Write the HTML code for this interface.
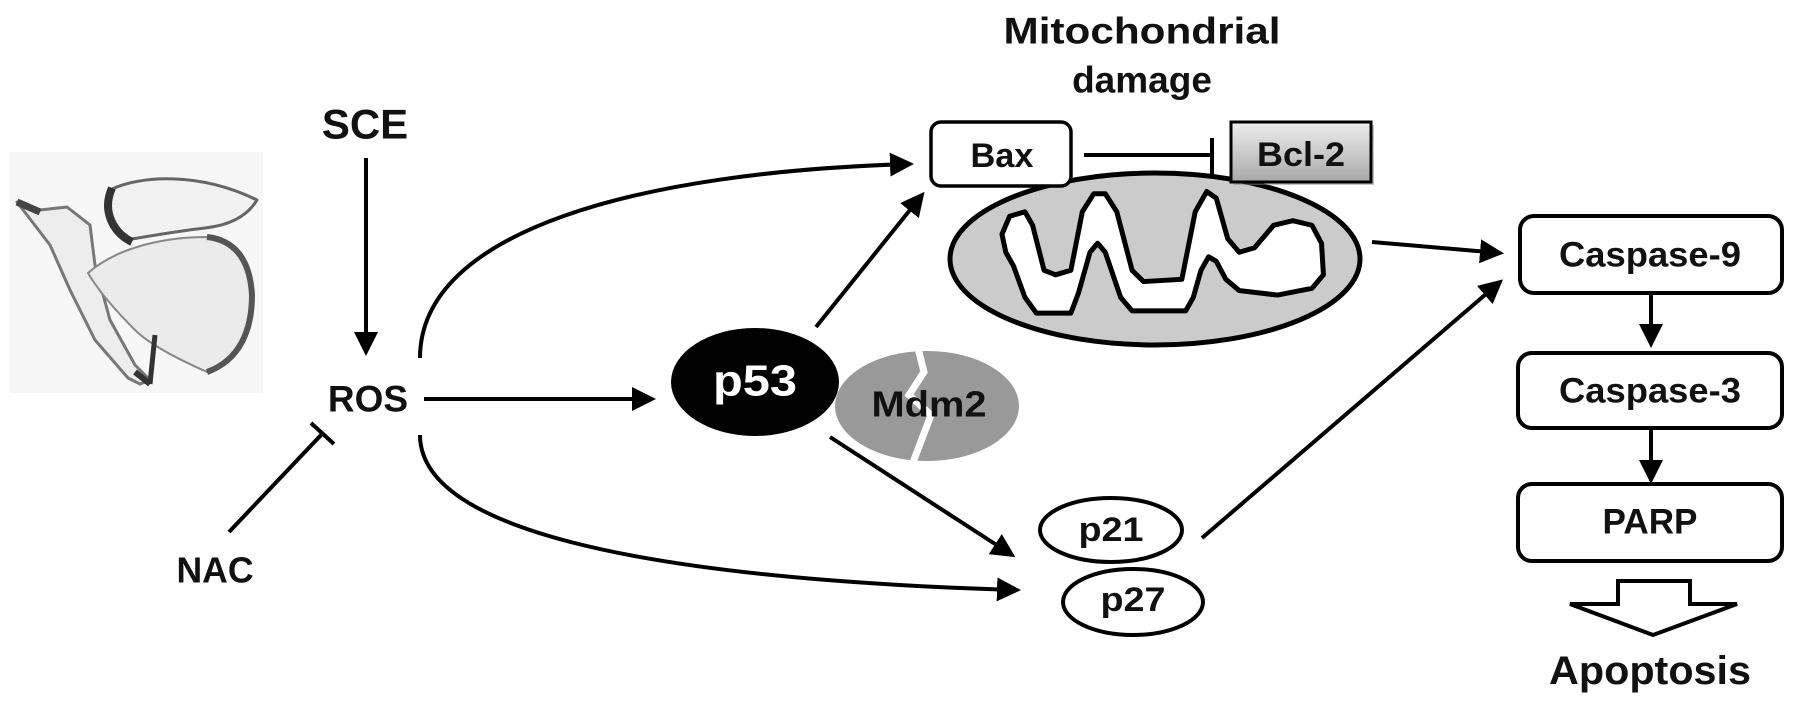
<!DOCTYPE html>
<html><head><meta charset="utf-8"><style>
html,body{margin:0;padding:0;background:#fff;}
svg{display:block;}
text{font-family:"Liberation Sans",sans-serif;font-weight:bold;fill:#111;text-anchor:middle;dominant-baseline:central;}
</style></head><body>
<svg width="1795" height="706" viewBox="0 0 1795 706" xmlns="http://www.w3.org/2000/svg">
<defs>
<marker id="ah" markerWidth="6" markerHeight="6" refX="5" refY="3" orient="auto" markerUnits="strokeWidth">
<path d="M0,0 L6,3 L0,6 z" fill="#000"/></marker>
<linearGradient id="bg2" x1="0" y1="0" x2="0" y2="1"><stop offset="0" stop-color="#eee"/><stop offset="1" stop-color="#a8a8a8"/></linearGradient>
</defs>

<!-- leaf image -->
<rect x="10" y="152" width="253" height="241" fill="#f7f7f7"/>
<g stroke-linejoin="round">
<!-- left sliver -->
<path d="M17,202 L40,210 L67,207 L90,225 L95,265 L110,320 L135,365 L150,380 L140,384 L128,378 L95,340 L70,290 L50,245 Z" fill="#ededed" stroke="#777" stroke-width="3"/>
<path d="M17,202 L40,212" stroke="#444" stroke-width="7"/>
<path d="M135,372 L150,384" stroke="#333" stroke-width="6"/>
<!-- top wedge -->
<path d="M110,190 C140,175 200,172 257,200 C248,215 232,225 205,228 C170,232 140,238 125,240 C112,225 105,205 110,190 Z" fill="#f2f2f2" stroke="#666" stroke-width="3"/>
<path d="M112,188 C102,210 112,232 132,242" fill="none" stroke="#333" stroke-width="8"/>
<!-- big half -->
<path d="M88,273 C120,245 170,237 207,237 C235,240 250,260 252,295 C252,330 240,360 207,372 C180,360 150,345 135,330 C115,310 98,290 88,273 Z" fill="#ebebeb" stroke="#888" stroke-width="2"/>
<path d="M207,237 C235,240 250,260 252,295 C252,330 240,360 207,372" fill="none" stroke="#555" stroke-width="6"/>
<path d="M155,335 L150,384" stroke="#333" stroke-width="5"/>
</g>

<!-- texts left -->
<text x="365" y="124" font-size="42">SCE</text>
<text x="368" y="399" font-size="37">ROS</text>
<text x="215" y="570" font-size="36" textLength="77" lengthAdjust="spacingAndGlyphs">NAC</text>

<g stroke="#000" stroke-width="4" fill="none">
<line x1="366" y1="158" x2="366" y2="352" marker-end="url(#ah)"/>
<line x1="424" y1="399" x2="652" y2="399" marker-end="url(#ah)"/>
<line x1="229" y1="532" x2="322" y2="434"/>
<line x1="311" y1="423" x2="334" y2="444"/>
<path d="M420,358 C420,230 640,172 910,164" marker-end="url(#ah)"/>
<path d="M420,435 C420,525 620,578 1017,590" marker-end="url(#ah)"/>
<line x1="816" y1="327" x2="922" y2="195" marker-end="url(#ah)"/>
<line x1="830" y1="437" x2="1012" y2="555" marker-end="url(#ah)"/>
<line x1="1084" y1="155" x2="1212" y2="155"/>
<line x1="1212" y1="138" x2="1212" y2="174"/>
<line x1="1372" y1="242" x2="1500" y2="253" marker-end="url(#ah)"/>
<line x1="1202" y1="538" x2="1500" y2="282" marker-end="url(#ah)"/>
<line x1="1651" y1="293" x2="1651" y2="344" marker-end="url(#ah)"/>
<line x1="1651" y1="428" x2="1651" y2="480" marker-end="url(#ah)"/>
</g>

<!-- mitochondrion -->
<ellipse cx="1155" cy="259" rx="205" ry="86" fill="#cbcbcb" stroke="#000" stroke-width="5"/>
<g transform="translate(780,0) scale(0.3827,0.4505)">
<path vector-effect="non-scaling-stroke" fill="#fff" stroke="#000" stroke-width="5" stroke-linejoin="round" d="M580,520 L600,480 L640,470 L660,500 L690,600 L720,610 L760,600 L790,470 L820,430 L850,430 L880,470 L920,600 L950,625 L1050,620 L1085,470 L1115,425 L1140,440 L1170,530 L1200,560 L1240,550 L1290,500 L1340,490 L1390,500 L1415,540 L1420,610 L1390,640 L1300,655 L1200,645 L1165,620 L1140,580 L1120,570 L1100,600 L1080,660 L1060,690 L920,690 L890,660 L850,560 L830,540 L810,560 L780,650 L760,695 L670,695 L640,660 L610,590 L590,560 Z"/>
</g>

<!-- Bax / Bcl-2 -->
<rect x="931" y="122" width="140" height="64" rx="10" fill="#fff" stroke="#000" stroke-width="3.5"/>
<text x="1002" y="156" font-size="34" textLength="63" lengthAdjust="spacingAndGlyphs">Bax</text>
<rect x="1234" y="125" width="140" height="60" fill="#888" opacity="0.5"/>
<rect x="1231" y="122" width="140" height="60" fill="url(#bg2)" stroke="#000" stroke-width="3"/>
<text x="1301" y="155" font-size="34" textLength="88" lengthAdjust="spacingAndGlyphs">Bcl-2</text>
<text x="1142" y="31" font-size="37" textLength="277" lengthAdjust="spacingAndGlyphs">Mitochondrial</text>
<text x="1142" y="80" font-size="37">damage</text>

<!-- Mdm2 -->
<ellipse cx="927" cy="406" rx="92" ry="55" fill="#999"/>
<polyline points="918,348 924,372 909,395 931,415 912,465" fill="none" stroke="#fff" stroke-width="7"/>
<text x="929" y="404" font-size="36" textLength="115" lengthAdjust="spacingAndGlyphs">Mdm2</text>

<!-- p53 -->
<ellipse cx="755" cy="382" rx="84" ry="54" fill="#000"/>
<text x="755" y="381" font-size="44" style="fill:#fff" textLength="84" lengthAdjust="spacingAndGlyphs">p53</text>

<!-- p21/p27 -->
<ellipse cx="1111" cy="530" rx="71" ry="32" fill="#fff" stroke="#000" stroke-width="4"/>
<text x="1111" y="530" font-size="34" textLength="65" lengthAdjust="spacingAndGlyphs">p21</text>
<ellipse cx="1133" cy="602" rx="70" ry="33" fill="#fff" stroke="#000" stroke-width="4"/>
<text x="1133" y="600" font-size="34" textLength="65" lengthAdjust="spacingAndGlyphs">p27</text>

<!-- caspase column -->
<rect x="1520" y="216" width="262" height="77" rx="14" fill="#fff" stroke="#000" stroke-width="4"/>
<text x="1650" y="255" font-size="35" textLength="182" lengthAdjust="spacingAndGlyphs">Caspase-9</text>
<rect x="1518" y="353" width="264" height="75" rx="14" fill="#fff" stroke="#000" stroke-width="4"/>
<text x="1650" y="391" font-size="35" textLength="182" lengthAdjust="spacingAndGlyphs">Caspase-3</text>
<rect x="1518" y="484" width="264" height="77" rx="14" fill="#fff" stroke="#000" stroke-width="4"/>
<text x="1650" y="522" font-size="35" textLength="95" lengthAdjust="spacingAndGlyphs">PARP</text>
<path d="M1618,581 L1690,581 L1690,604 L1737,604 L1653,635 L1570,604 L1618,604 Z" fill="#fff" stroke="#000" stroke-width="4" stroke-linejoin="miter"/>
<text x="1650" y="671" font-size="40" textLength="202" lengthAdjust="spacingAndGlyphs">Apoptosis</text>
</svg>
</body></html>
